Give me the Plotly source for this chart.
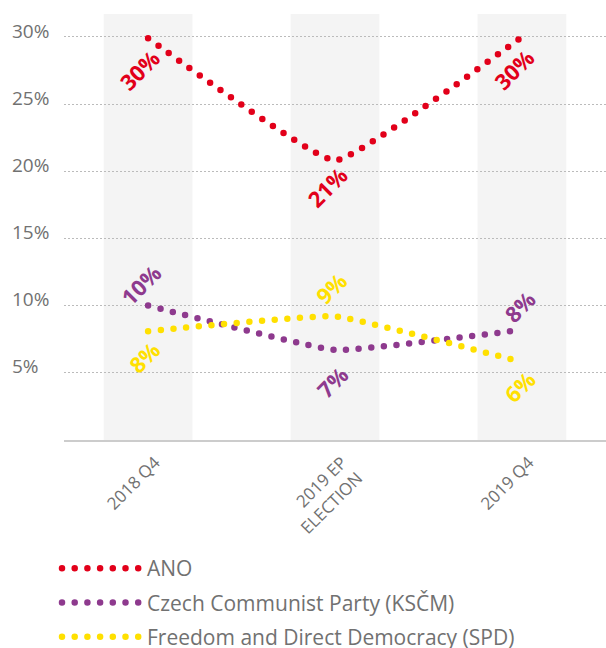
import plotly.graph_objects as go

categories = ["2018 Q4", "2019 EP<br>ELECTION", "2019 Q4"]
series_names = ["ANO", "Czech Communist Party (KSČM)", "Freedom and Direct Democracy (SPD)"]
ano = [29.9, 20.8, 30.0]
kscm = [10.0, 6.7, 8.2]
spd = [8.1, 9.2, 5.8]
y_ticks = [5, 10, 15, 20, 25, 30]
y_tick_labels = ["5%", "10%", "15%", "20%", "25%", "30%"]

series_values = [ano, kscm, spd]
colors = ["#e2001a", "#8e3a8e", "#ffe000"]
# label offsets in screen px (dx, dy with y down) per series per point
label_offsets = [
    [(-9, 32), (-8, 27), (-8, 32)],
    [(-8, -21), (-3, 32), (-2, -24)],
    [(-4, 26), (-4, -28), (-2, 24)],
]

W, H = 606, 648
L, T, B = 64, 14, 208
FONT = "Open Sans"
GRAY = "#717171"

xs = list(range(len(categories)))
fig = go.Figure()

for i, (name, vals, col) in enumerate(zip(series_names, series_values, colors)):
    fig.add_trace(go.Scatter(
        x=xs, y=vals, name=name, mode="lines",
        line=dict(color=col, width=6.5, dash="0px,12.7px", shape="spline", smoothing=0.3),
        legendgroup=f"g{i}", hoverinfo="skip",
    ))
    for j, v in enumerate(vals):
        dx, dy = label_offsets[i][j]
        fig.add_annotation(
            x=xs[j], y=v, text=f"{round(v)}%", showarrow=False,
            textangle=-45, xshift=dx, yshift=-dy,
            font=dict(family=FONT, size=22, color=col, weight="bold"),
        )

# background bands
for x in xs:
    fig.add_shape(type="rect", xref="x", yref="paper", x0=x - 0.2375, x1=x + 0.2375,
                  y0=0, y1=1, fillcolor="#f4f4f4", line_width=0, layer="below")

fig.update_layout(
    width=W, height=H,
    margin=dict(l=0, r=0, t=T, b=B, autoexpand=False),
    paper_bgcolor="white", plot_bgcolor="white",
    font=dict(family=FONT, color=GRAY),
    xaxis=dict(
        domain=[L / W, 1], range=[-0.45, 2.45],
        tickmode="array", tickvals=xs, ticktext=categories,
        tickangle=-45, tickfont=dict(size=17, color=GRAY),
        ticklabelshift=7, ticklabelstandoff=4,
        showgrid=False, zeroline=False,
        showline=True, linecolor="#cccccc", linewidth=2,
        ticks="", fixedrange=True, automargin=False,
    ),
    yaxis=dict(
        range=[0, 31.7], anchor="free", position=8 / W,
        tickmode="array", tickvals=y_ticks, ticktext=y_tick_labels,
        ticklabelposition="inside", ticklabelshift=-6,
        tickfont=dict(size=19, color=GRAY),
        showgrid=True, gridcolor="#bbbbbb", gridwidth=1, griddash="1.5px,2.5px",
        zeroline=False, showline=False, ticks="", fixedrange=True, automargin=False,
    ),
    showlegend=True,
    legend=dict(
        x=57 / W, xanchor="left", y=(440 - 548) / 426, yanchor="top",
        orientation="v", traceorder="grouped", tracegroupgap=4,
        itemwidth=80, font=dict(size=21, color=GRAY),
        bgcolor="rgba(0,0,0,0)",
    ),
)

post = """
document.body.style.margin = '0';
document.body.style.padding = '0';
var gd = document.getElementById('{plot_id}');
function rc(){
  gd.querySelectorAll('.scatterlayer path, .legend path').forEach(function(p){
    p.style.strokeLinecap = 'round';
  });
}
rc();
gd.on('plotly_afterplot', rc);
"""

fig.write_html("out.html", post_script=post, config={"displayModeBar": False})
